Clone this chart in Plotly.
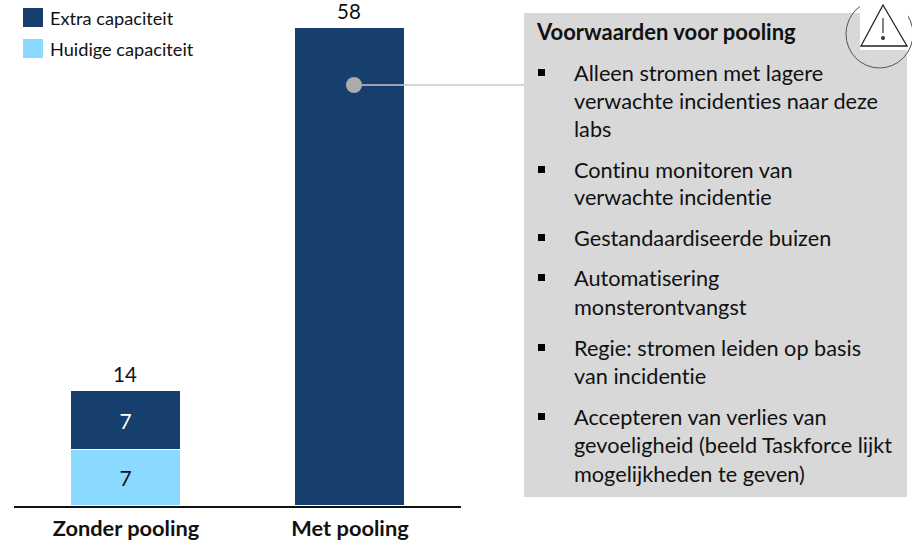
import plotly.graph_objects as go

W, H = 912, 541
categories = ["Zonder pooling", "Met pooling"]
huidige = [6.75, None]
extra = [7.2, 58]
totals = [14, 58]
series_names = ["Extra capaciteit", "Huidige capaciteit"]
panel_title = "Voorwaarden voor pooling"
panel_items = [
    ["Alleen stromen met lagere", "verwachte incidenties naar deze", "labs"],
    ["Continu monitoren van", "verwachte incidentie"],
    ["Gestandaardiseerde buizen"],
    ["Automatisering", "monsterontvangst"],
    ["Regie: stromen leiden op basis", "van incidentie"],
    ["Accepteren van verlies van", "gevoeligheid (beeld Taskforce lijkt", "mogelijkheden te geven)"],
]
item_tops = [[73, 101, 129], [170, 197], [238], [278, 307], [348, 376], [417, 445, 474]]

DARK, LIGHT = "#173F6E", "#8AD9FF"
FONT = "Lato"
px = lambda x: x / W
py = lambda y: 1 - y / H

# plot area runs x 14..461, y 0..506 px; category unit = 224 px, value unit = 8.24 px
x0, x1 = 14, 461
fig = go.Figure()
fig.add_bar(x=[0, 1], y=huidige, marker=dict(color=LIGHT, line=dict(color="white", width=1)),
            width=0.492, name=series_names[1], texttemplate=["%{y:.0f}", ""], textposition="inside",
            insidetextanchor="middle", textangle=0, textfont=dict(color="#111111", size=21, family=FONT))
fig.add_bar(x=[0, 1], y=extra, marker=dict(color=DARK, line=dict(color="white", width=1)),
            width=0.492, name=series_names[0], texttemplate=["%{y:.0f}", ""], textposition="inside",
            insidetextanchor="middle", textangle=0, textfont=dict(color="white", size=21, family=FONT))

shapes = [
    dict(type="rect", xref="paper", yref="paper", x0=px(524), x1=px(907), y0=py(13), y1=py(497),
         fillcolor="#D8D8D8", line_width=0, layer="below"),
    dict(type="line", xref="paper", yref="paper", x0=px(354), x1=px(524), y0=py(85), y1=py(85),
         line=dict(color="#C8C8C8", width=1.3)),
    dict(type="circle", xref="paper", yref="paper", x0=px(346), x1=px(362), y0=py(77), y1=py(93),
         fillcolor="#ABABAB", line_width=0),
    dict(type="rect", xref="paper", yref="paper", x0=px(23), x1=px(43), y0=py(8), y1=py(27),
         fillcolor=DARK, line_width=0),
    dict(type="rect", xref="paper", yref="paper", x0=px(23), x1=px(43), y0=py(39), y1=py(58),
         fillcolor=LIGHT, line_width=0),
    # warning icon
    dict(type="circle", xref="paper", yref="paper", x0=px(846), x1=px(913), y0=py(0), y1=py(68),
         fillcolor="rgba(0,0,0,0)", line=dict(color="#555555", width=1)),
    dict(type="rect", xref="paper", yref="paper", x0=px(860), x1=px(908), y0=py(0), y1=py(50),
         fillcolor="white", line_width=0),
    dict(type="path", xref="paper", yref="paper",
         path=f"M {px(883)} {py(5)} L {px(861)} {py(46)} L {px(907)} {py(46)} Z",
         fillcolor="white", line=dict(color="#222222", width=1.3)),
    dict(type="line", xref="paper", yref="paper", x0=px(883), x1=px(883), y0=py(18), y1=py(33),
         line=dict(color="#333333", width=1.2)),
    dict(type="circle", xref="paper", yref="paper", x0=px(881), x1=px(885), y0=py(36), y1=py(40),
         fillcolor="#333333", line_width=0),
]
ann = []
def text(x, y, s, size=21.7, bold=False, color="#111111"):
    ann.append(dict(xref="paper", yref="paper", x=px(x), y=py(y), text=f"<b>{s}</b>" if bold else s,
                    showarrow=False, xanchor="left", yanchor="middle", align="left",
                    font=dict(family=FONT, size=size, color=color)))
for i, v in enumerate(totals):
    ann.append(dict(xref="x", yref="y", x=i, y=v, text=str(v), showarrow=False, yanchor="bottom",
                    yshift=3, xshift=-1, font=dict(family=FONT, size=20.5, color="#111111")))
text(48, 18, series_names[0], size=18.2)
text(48, 49, series_names[1], size=18.2)
text(534, 32, panel_title, size=22, bold=True)
for lines, ys in zip(panel_items, item_tops):
    shapes.append(dict(type="rect", xref="paper", yref="paper", x0=px(538), x1=px(545),
                       y0=py(ys[0] - 4), y1=py(ys[0] + 3), fillcolor="#000000", line_width=0))
    for s, y in zip(lines, ys):
        text(572, y, s)

fig.update_layout(
    width=W, height=H, margin=dict(l=0, r=0, t=0, b=0), barmode="stack", bargap=0,
    showlegend=False, paper_bgcolor="white", plot_bgcolor="rgba(0,0,0,0)",
    shapes=shapes, annotations=ann,
    xaxis=dict(domain=[px(x0), px(x1)], range=[(x0 - 126) / 224, (x1 - 126) / 224],
               tickvals=[0, 1], ticktext=[f"<b>{c}</b>" for c in categories], ticks="",
               ticklabelstandoff=2,
               showgrid=False, showline=True, linecolor="#111111", linewidth=1.5,
               tickfont=dict(family=FONT, size=21.8, color="#111111"), zeroline=False),
    yaxis=dict(domain=[35 / H, 1], range=[0, 506 / 8.24], visible=False, showgrid=False, zeroline=False),
)
post = ("document.body.style.margin='0';"
        "var s=document.createElement('style');"
        "s.textContent='svg text{font-variant-ligatures:none!important;"
        "font-feature-settings:\"liga\" 0,\"clig\" 0,\"dlig\" 0!important}';"
        "document.head.appendChild(s);")
fig.write_html("out.html", post_script=post, config=dict(displayModeBar=False))
